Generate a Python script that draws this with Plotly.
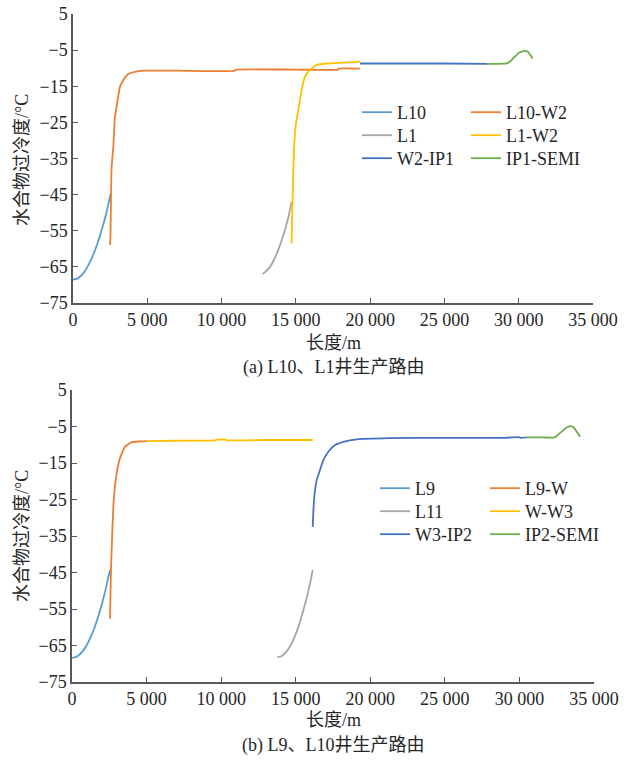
import plotly.graph_objects as go

# ---------------- data: chart (a) ----------------
L10_x = [0, 250, 500, 750, 1000, 1250, 1500, 1750, 2000, 2250, 2540]
L10_y = [-68.5, -68.3, -67.6, -66.5, -64.8, -62.7, -60.2, -57.2, -53.8, -50.0, -44.6]

L10W2_x = [2490, 2520, 2560, 2600, 2714, 2826, 3006, 3163, 3387, 3724, 4172, 4735, 7000, 10900, 10950, 15000, 17830, 17880, 19310]
L10W2_y = [-58.9, -57.0, -45.0, -37.3, -31.7, -23.4, -18.8, -15.1, -13.3, -11.6, -11.0, -10.7, -10.7, -10.7, -10.4, -10.4, -10.4, -10.1, -10.1]

L1_x = [12765, 13000, 13257, 13500, 13750, 14000, 14250, 14500, 14717]
L1_y = [-67.0, -66.2, -65.0, -63.3, -61.0, -58.2, -55.0, -51.2, -47.0]

L1W2_x = [14717, 14740, 14780, 14872, 15007, 15165, 15389, 15612, 15949, 16397, 17070, 18000, 19000, 19313]
L1W2_y = [-58.5, -52.0, -46.5, -32.6, -25.3, -21.6, -16.0, -12.4, -10.5, -9.1, -8.7, -8.5, -8.3, -8.2]

W2IP1_x = [19313, 22000, 25000, 27880]
W2IP1_y = [-8.7, -8.7, -8.7, -8.8]

IP1SEMI_x = [27880, 28500, 29186, 29400, 29630, 29966, 30200, 30417, 30600, 30707, 30850, 30936]
IP1SEMI_y = [-8.8, -8.8, -8.7, -8.2, -7.3, -5.9, -5.4, -5.2, -5.4, -5.9, -6.7, -7.3]

# ---------------- data: chart (b) ----------------
L9_x = [0, 250, 500, 750, 1000, 1250, 1500, 1750, 2000, 2250, 2548]
L9_y = [-68.4, -68.2, -67.5, -66.4, -64.8, -62.7, -60.2, -57.2, -53.7, -49.7, -44.3]

L9W_x = [2548, 2580, 2615, 2704, 2816, 2995, 3218, 3554, 4001, 4500, 5000]
L9W_y = [-57.6, -51.0, -44.3, -33.4, -24.2, -17.8, -13.7, -10.5, -9.3, -9.1, -9.0]

WW3_x = [5000, 7000, 9600, 9700, 10300, 10400, 13000, 16138]
WW3_y = [-9.0, -8.9, -8.8, -8.6, -8.6, -8.8, -8.7, -8.7]

L11_x = [13768, 14000, 14250, 14500, 14750, 15000, 15250, 15500, 15750, 16000, 16138]
L11_y = [-68.2, -68.0, -67.2, -66.0, -64.2, -61.9, -59.0, -55.5, -51.7, -47.3, -44.3]

W3IP2_x = [16138, 16227, 16406, 16629, 16853, 17189, 17635, 18195, 19089, 21322, 25000, 29000, 29900, 30100, 30489]
W3IP2_y = [-32.5, -25.1, -19.7, -16.9, -14.2, -11.9, -10.1, -9.2, -8.5, -8.2, -8.1, -8.1, -7.9, -8.1, -8.0]

IP2SEMI_x = [30489, 31500, 32386, 32600, 32834, 33050, 33280, 33430, 33572, 33700, 33840, 33950, 34062]
IP2SEMI_y = [-8.0, -8.0, -8.0, -7.2, -6.4, -5.6, -5.05, -4.9, -5.05, -5.6, -6.4, -7.0, -7.8]

# ---------------- ticks / labels ----------------
x_tickvals = [0, 5000, 10000, 15000, 20000, 25000, 30000, 35000]
x_ticktext = ["0", "5 000", "10 000", "15 000", "20 000", "25 000", "30 000", "35 000"]
y_tickvals = [-75, -65, -55, -45, -35, -25, -15, -5, 5]
y_ticktext = ["\u221275", "\u221265", "\u221255", "\u221245", "\u221235", "\u221225", "\u221215", "\u22125", "5"]

x_title = "长度/m"
y_title = "水合物过冷度/°C"
caption_a = "(a) L10、L1井生产路由"
caption_b = "(b) L9、L10井生产路由"

C_LBLUE = "#5B9BD5"
C_ORANGE = "#ED7D31"
C_GRAY = "#A5A5A5"
C_GOLD = "#FFC000"
C_BLUE = "#4472C4"
C_GREEN = "#70AD47"

FONT = "Liberation Serif, Times New Roman, Noto Sans CJK SC, serif"
TXT = "#262626"
FS = 18

W, H = 630, 760

def px_x(p):
    return p / W

def px_y(p):
    return 1 - p / H

fig = go.Figure()
legends = {}

# one legend per entry to mimic the 2-column grid legend
def add(x, y, name, color, xa, ya, lid, lx, ly):
    fig.add_trace(go.Scatter(
        x=x, y=y, name=name, mode="lines",
        line=dict(color=color, width=1.8, shape="spline", smoothing=0.4),
        xaxis=xa, yaxis=ya, legend=lid,
    ))
    legends[lid] = dict(
        x=px_x(lx), y=px_y(ly), xanchor="left", yanchor="top",
        xref="paper", yref="paper", bgcolor="rgba(0,0,0,0)",
        font=dict(family=FONT, size=FS, color=TXT), orientation="v",
    )

TC1, TC2, BC1, BC2 = 357, 466, 375, 485
TR = [94, 117, 140]
BR = [470, 493, 516]

# (a)
add(L10_x, L10_y, "L10", C_LBLUE, "x", "y", "legend", TC1, TR[0])
add(L10W2_x, L10W2_y, "L10-W2", C_ORANGE, "x", "y", "legend2", TC2, TR[0])
add(L1_x, L1_y, "L1", C_GRAY, "x", "y", "legend3", TC1, TR[1])
add(L1W2_x, L1W2_y, "L1-W2", C_GOLD, "x", "y", "legend4", TC2, TR[1])
add(W2IP1_x, W2IP1_y, "W2-IP1", C_BLUE, "x", "y", "legend5", TC1, TR[2])
add(IP1SEMI_x, IP1SEMI_y, "IP1-SEMI", C_GREEN, "x", "y", "legend6", TC2, TR[2])
# (b)
add(L9_x, L9_y, "L9", C_LBLUE, "x2", "y2", "legend7", BC1, BR[0])
add(L9W_x, L9W_y, "L9-W", C_ORANGE, "x2", "y2", "legend8", BC2, BR[0])
add(L11_x, L11_y, "L11", C_GRAY, "x2", "y2", "legend9", BC1, BR[1])
add(WW3_x, WW3_y, "W-W3", C_GOLD, "x2", "y2", "legend10", BC2, BR[1])
add(W3IP2_x, W3IP2_y, "W3-IP2", C_BLUE, "x2", "y2", "legend11", BC1, BR[2])
add(IP2SEMI_x, IP2SEMI_y, "IP2-SEMI", C_GREEN, "x2", "y2", "legend12", BC2, BR[2])

axis_common = dict(
    showline=True, linecolor="#595959", linewidth=1.5,
    ticks="inside", ticklen=5, tickwidth=1.3, tickcolor="#595959",
    showgrid=False, zeroline=False, mirror=False, automargin=False,
    tickfont=dict(family=FONT, size=FS, color=TXT),
)

xa = dict(axis_common, range=[0, 35000], tickmode="array", tickvals=x_tickvals, ticktext=x_ticktext)
ya = dict(axis_common, range=[-75, 5], tickmode="array", tickvals=y_tickvals, ticktext=y_ticktext)

annotations = []
def ann(text, xp, yp, angle=0):
    annotations.append(dict(
        text=text, x=px_x(xp), y=px_y(yp), xref="paper", yref="paper",
        showarrow=False, textangle=angle, xanchor="center", yanchor="middle",
        font=dict(family=FONT, size=FS, color=TXT),
    ))

ann(x_title, 333, 343)
ann(caption_a, 333, 367)
ann(y_title, 22, 160, -90)
ann(x_title, 333, 720)
ann(caption_b, 333, 745)
ann(y_title, 22, 536, -90)

fig.update_layout(
    template="none",
    width=W, height=H, margin=dict(l=0, r=0, t=0, b=0, autoexpand=False),
    paper_bgcolor="white", plot_bgcolor="white",
    xaxis=dict(xa, domain=[px_x(73), px_x(593)], anchor="y"),
    yaxis=dict(ya, domain=[px_y(303), px_y(14)], anchor="x"),
    xaxis2=dict(xa, domain=[px_x(72), px_x(594)], anchor="y2"),
    yaxis2=dict(ya, domain=[px_y(682), px_y(390)], anchor="x2"),
    annotations=annotations,
    showlegend=True,
    **legends,
)

fig.write_html("out.html")
